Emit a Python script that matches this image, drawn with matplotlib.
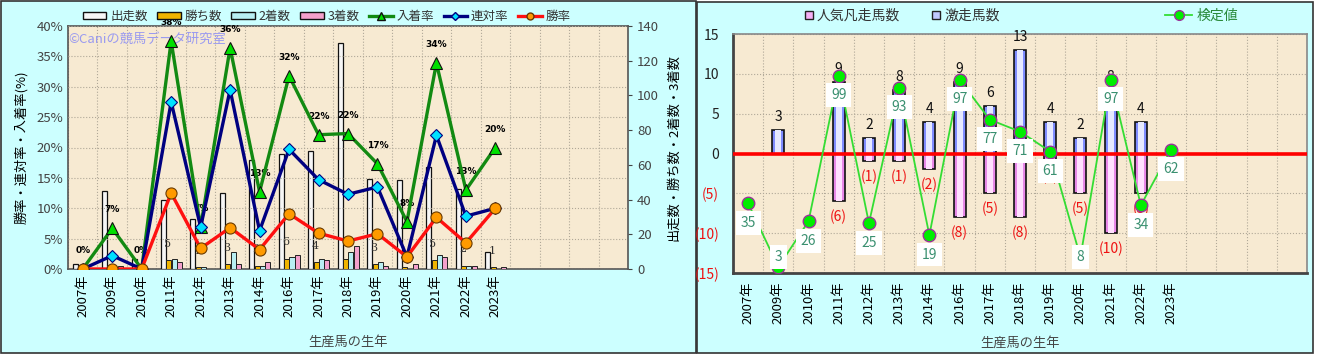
import numpy as np
import matplotlib.pyplot as plt
from matplotlib.patches import Rectangle, Patch
from matplotlib.lines import Line2D

plt.rcParams['font.family'] = ['Noto Sans CJK JP', 'DejaVu Sans']

# data
years = ['2007年', '2009年', '2010年', '2011年', '2012年', '2013年', '2014年', '2016年',
         '2017年', '2018年', '2019年', '2020年', '2021年', '2022年', '2023年']
runners = [3, 45, 6, 40, 29, 44, 63, 66, 68, 130, 52, 51, 59, 46, 10]
wins = [0, 0, 0, 5, 1, 3, 2, 6, 4, 6, 3, 1, 5, 2, 1]
seconds = [0, 1, 0, 6, 1, 10, 2, 7, 6, 10, 4, 0, 8, 2, 0]
thirds = [0, 2, 0, 4, 0, 3, 4, 8, 5, 13, 2, 3, 7, 2, 1]
place_rate = [0, 6.7, 0, 37.5, 6.9, 36.4, 12.7, 31.8, 22.1, 22.3, 17.3, 7.8, 33.9, 13.0, 20.0]
quinella_rate = [0, 2.2, 0, 27.5, 6.9, 29.5, 6.3, 19.7, 14.7, 12.3, 13.5, 2.0, 22.0, 8.7, 10.0]
win_rate = [0, 0, 0, 12.5, 3.4, 6.8, 3.2, 9.1, 5.9, 4.6, 5.8, 2.0, 8.5, 4.3, 10.0]
place_labels = ['0%', '7%', '0%', '38%', '7%', '36%', '13%', '32%', '22%', '22%', '17%', '8%',
                '34%', '13%', '20%']

upset = [0, 3, 0, 9, 2, 8, 4, 9, 6, 13, 4, 2, 8, 4, 0]
flop = [0, 0, 0, 6, 1, 1, 2, 8, 5, 8, 1, 5, 10, 5, 0]
test_val = [35, 3, 26, 99, 25, 93, 19, 97, 77, 71, 61, 8, 97, 34, 62]

W, H = 1322, 356
fig = plt.figure(figsize=(W / 100, H / 100), dpi=100)
fig.patch.set_facecolor('white')


def fx(x):
    return x / W


def fy(y):
    return 1 - y / H


# panel backgrounds
fig.patches.append(Rectangle((fx(1), fy(353)), fx(695), (352) / H, transform=fig.transFigure,
                             facecolor='#ccffff', edgecolor='#333333', lw=1.2, zorder=-5))
fig.patches.append(Rectangle((fx(697), fy(353)), fx(616), (351) / H, transform=fig.transFigure,
                             facecolor='#ccffff', edgecolor='#333333', lw=1.2, zorder=-5))

x = np.arange(len(years))
bg = '#f7ead2'
gridc = '#b0a898'

# ---------------- left chart ----------------
ax = fig.add_axes([fx(68), fy(269), fx(560), 243 / H])
ax2 = ax.twinx()
ax.set_facecolor(bg)
bw = 0.17
ax.bar(x - 0.26, runners, bw, color='#f6f6f6', edgecolor='#111111', lw=0.9, zorder=3)
ax.bar(x - 0.08, wins, bw, color='#f0b400', edgecolor='#222222', lw=0.7, zorder=3)
ax.bar(x + 0.10, seconds, bw, color='#b8eef2', edgecolor='#222222', lw=0.7, zorder=3)
ax.bar(x + 0.28, thirds, bw, color='#f4a0cc', edgecolor='#222222', lw=0.7, zorder=3)
for i, w in enumerate(wins):
    if w > 0:
        ax.annotate(str(w), (x[i] - 0.12, w), xytext=(0, 8), textcoords='offset points',
                    ha='center', va='bottom', fontsize=8, color='#333333', family='DejaVu Serif',
                    zorder=4)
ax.set_ylim(0, 140)
ax.set_yticks(range(0, 141, 20))
ax.yaxis.tick_right()
ax.yaxis.set_label_position('right')
ax.set_xlim(-0.5, 18.5)
ax.set_xticks(x)
ax.set_xticklabels(years, rotation=90, fontsize=9.5)
ax.set_xticks(np.arange(-0.5, 18.6, 1), minor=True)
ax.tick_params(axis='x', which='both', length=0, pad=4)
ax.tick_params(axis='y', labelsize=9.5, labelcolor='#444444', length=3, color='#444444')
ax.grid(axis='x', which='minor', ls=':', color=gridc, lw=0.8)
ax.set_ylabel('出走数・勝ち数・2着数・3着数', fontsize=9.5, labelpad=6)
ax.set_xlabel('生産馬の生年', fontsize=9.5, color='#444444', labelpad=13)
for s in ax.spines.values():
    s.set_color('#555555')
    s.set_linewidth(1.2)

ax2.yaxis.tick_left()
ax2.yaxis.set_label_position('left')
ax2.set_ylim(0, 40)
ax2.set_yticks(range(0, 41, 5))
ax2.set_yticklabels([f'{v}%' for v in range(0, 41, 5)])
ax2.tick_params(axis='y', labelsize=9.5, labelcolor='#444444', length=0)
ax2.grid(axis='y', ls=':', color=gridc, lw=0.8)
ax2.set_ylabel('勝率・連対率・入着率(%)', fontsize=9.5, labelpad=6)
l1, = ax2.plot(x, place_rate, color='#128a12', lw=2.4, marker='^', ms=9,
               mfc='#00e000', mec='#111111', mew=0.8, zorder=5)
l2, = ax2.plot(x, quinella_rate, color='#000080', lw=2.4, marker='D', ms=6,
               mfc='#00e0ff', mec='#000080', mew=0.8, zorder=5)
l3, = ax2.plot(x, win_rate, color='#ff1010', lw=2.4, marker='o', ms=8,
               mfc='#ff9a00', mec='#6a3a00', mew=0.8, zorder=6)
for i, lab in enumerate(place_labels):
    ax2.annotate(lab, (x[i], place_rate[i]), xytext=(0, 10), textcoords='offset points',
                 ha='center', va='bottom', fontsize=6.5, fontweight='bold', family='DejaVu Sans')
for s in ax2.spines.values():
    s.set_visible(False)

ax2.text(0.0, 0.945, '©Caniの競馬データ研究室', transform=ax2.transAxes, fontsize=9.5,
         color='#9a9af0', va='center', ha='left')

handles = [Patch(facecolor='#f6f6f6', edgecolor='#111111'),
           Patch(facecolor='#f0b400', edgecolor='#111111'),
           Patch(facecolor='#b8eef2', edgecolor='#111111'),
           Patch(facecolor='#f4a0cc', edgecolor='#111111'),
           Line2D([], [], color='#128a12', lw=2.4, marker='^', ms=6, mfc='#00e000', mec='#111111'),
           Line2D([], [], color='#000080', lw=2.4, marker='D', ms=4, mfc='#00e0ff', mec='#000080'),
           Line2D([], [], color='#ff1010', lw=2.4, marker='o', ms=5, mfc='#ff9a00', mec='#6a3a00')]
labels = ['出走数', '勝ち数', '2着数', '3着数', '入着率', '連対率', '勝率']
leg = ax2.legend(handles, labels, ncol=7, loc='center left', bbox_to_anchor=(0.015, 1.04),
                 frameon=False, fontsize=9, handlelength=1.9, handleheight=0.5,
                 handletextpad=0.3, columnspacing=0.75, borderpad=0)
for t in leg.get_texts():
    t.set_color('#333333')

# ---------------- right chart ----------------
axr = fig.add_axes([fx(733), fy(273), fx(574), 239 / H])
axr.set_facecolor(bg)
neg = [-v for v in flop]
axr.bar(x, upset, 0.4, color='#7f8cff', edgecolor='#111111', lw=1.2, zorder=3)
axr.bar(x, upset, 0.2, color='#e6e9ff', lw=0, zorder=3)
axr.bar(x, neg, 0.4, color='#e888e8', edgecolor='#111111', lw=1.2, zorder=3)
axr.bar(x, neg, 0.2, color='#ffe0ff', lw=0, zorder=3)
for i in range(len(years)):
    if upset[i] > 0:
        axr.annotate(str(upset[i]), (x[i], upset[i]), xytext=(0, 4), textcoords='offset points',
                     ha='center', va='bottom', fontsize=10, color='#111111', zorder=4)
    if flop[i] > 0:
        axr.annotate(f'({flop[i]})', (x[i], -flop[i]), xytext=(0, -6), textcoords='offset points',
                     ha='center', va='top', fontsize=10, color='#ee1111', zorder=4)
axr.axhline(0, color='#ff0000', lw=2.6, zorder=4)
axr.set_ylim(-15, 15)
ticks = list(range(-15, 16, 5))
axr.set_yticks(ticks)
axr.set_yticklabels([f'({-t})' if t < 0 else str(t) for t in ticks])
for t, lab in zip(ticks, axr.get_yticklabels()):
    lab.set_color('#ee1111' if t < 0 else '#222222')
axr.tick_params(axis='y', labelsize=10, length=0, pad=10)
axr.set_xlim(-0.5, 18.5)
axr.set_xticks(x)
axr.set_xticklabels(years, rotation=90, fontsize=9.5)
axr.set_xticks(np.arange(-0.5, 18.6, 1), minor=True)
axr.tick_params(axis='x', which='both', length=0, pad=6)
axr.grid(axis='x', which='minor', ls=':', color=gridc, lw=0.8)
axr.grid(axis='y', ls=':', color=gridc, lw=0.8)
axr.set_xlabel('生産馬の生年', fontsize=9.5, color='#444444', labelpad=9)
for s in axr.spines.values():
    s.set_color('#888888')
    s.set_linewidth(1.2)
axr.spines['left'].set_color('#444444')
axr.spines['left'].set_linewidth(2)
axr.spines['bottom'].set_color('#444444')
axr.spines['bottom'].set_linewidth(2)

axr2 = axr.twinx()
axr2.set_ylim(0, 120)
axr2.set_yticks([])
for s in axr2.spines.values():
    s.set_visible(False)
axr2.plot(x, test_val, color='#33dd33', lw=1.3, marker='o', ms=9, mfc='#00ee00',
          mec='#993399', mew=1.0, zorder=5)
for i, v in enumerate(test_val):
    yl = max(v, 8)
    off = -14 if v > 9 else 0
    axr2.annotate(str(v), (x[i], yl), xytext=(0, off), textcoords='offset points',
                  ha='center', va='center', fontsize=10, color='#3a9070', zorder=6,
                  bbox=dict(boxstyle='square,pad=0.35', fc='white', ec='none'))

rh = [Line2D([], [], ls='none', marker='s', ms=6, mfc='#f6b0f6', mec='#222222'),
      Line2D([], [], ls='none', marker='s', ms=6, mfc='#c0c8ff', mec='#222222')]
legr = axr.legend(rh, ['人気凡走馬数', '激走馬数'], ncol=2, loc='center left',
                  bbox_to_anchor=(0.11, 1.075), frameon=False, fontsize=10,
                  handlelength=0.8, handletextpad=0.2, columnspacing=2.2, borderpad=0)
for t in legr.get_texts():
    t.set_color('#333333')
gh = [Line2D([], [], color='#33dd33', lw=1.3, marker='o', ms=7, mfc='#00ee00', mec='#993399')]
legg = axr2.legend(gh, ['検定値'], loc='center left', bbox_to_anchor=(0.74, 1.075),
                   frameon=False, fontsize=10, handlelength=2.0, handletextpad=0.3, borderpad=0)
for t in legg.get_texts():
    t.set_color('#2a8a3a')

fig.savefig('out.png', dpi=100)
